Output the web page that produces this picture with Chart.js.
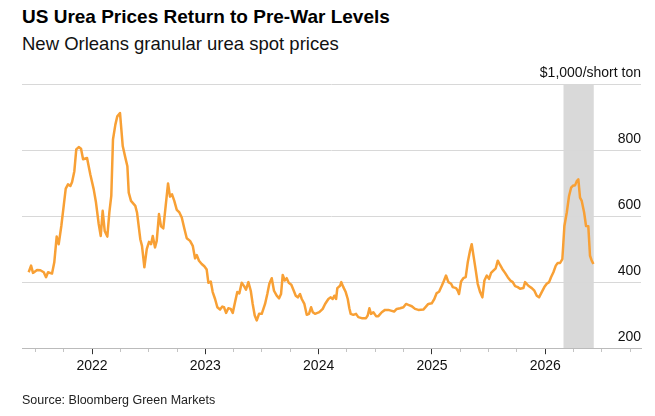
<!DOCTYPE html>
<html>
<head>
<meta charset="utf-8">
<script src="https://cdn.jsdelivr.net/npm/chart.js@4.4.0/dist/chart.umd.min.js"></script>
<style>
  html, body { margin: 0; padding: 0; background: #fff; }
  body { width: 655px; height: 416px; position: relative; overflow: hidden; font-family: "Liberation Sans", Arial, sans-serif; }
  #title { position: absolute; left: 22px; top: 6px; font-size: 19px; font-weight: bold; color: #000; }
  #subtitle { position: absolute; left: 22px; top: 33px; font-size: 18.5px; color: #111; }
  #source { position: absolute; left: 22px; top: 393px; font-size: 12.5px; color: #222; }
  #chart { position: absolute; left: 0; top: 0; }
</style>
</head>
<body>
<div id="title">US Urea Prices Return to Pre-War Levels</div>
<div id="subtitle">New Orleans granular urea spot prices</div>
<canvas id="chart" width="655" height="416"></canvas>
<div id="source">Source: Bloomberg Green Markets</div>
<script>
// weekly-ish spot price samples, dates as decimal years
const dates = [
  2021.441, 2021.462, 2021.479, 2021.515, 2021.544, 2021.574, 2021.594, 2021.612, 2021.647, 2021.667,
  2021.688, 2021.706, 2021.729, 2021.750, 2021.768, 2021.788, 2021.809, 2021.824, 2021.844, 2021.861,
  2021.883, 2021.903, 2021.921, 2021.956, 2021.985, 2022.015, 2022.035, 2022.059, 2022.077, 2022.094,
  2022.112, 2022.135, 2022.153, 2022.170, 2022.185, 2022.206, 2022.223, 2022.247, 2022.259, 2022.271,
  2022.294, 2022.312, 2022.324, 2022.344, 2022.382, 2022.397, 2022.426, 2022.441, 2022.462, 2022.483,
  2022.503, 2022.521, 2022.536, 2022.556, 2022.571, 2022.591, 2022.609, 2022.629, 2022.650, 2022.671,
  2022.688, 2022.706, 2022.726, 2022.748, 2022.771, 2022.792, 2022.812, 2022.836, 2022.865, 2022.889,
  2022.909, 2022.924, 2022.944, 2022.968, 2022.991, 2023.012, 2023.027, 2023.048, 2023.065, 2023.086,
  2023.106, 2023.130, 2023.150, 2023.165, 2023.183, 2023.203, 2023.224, 2023.242, 2023.262, 2023.282,
  2023.300, 2023.321, 2023.342, 2023.359, 2023.380, 2023.401, 2023.418, 2023.436, 2023.454, 2023.474,
  2023.498, 2023.527, 2023.547, 2023.565, 2023.586, 2023.606, 2023.630, 2023.651, 2023.668, 2023.683,
  2023.701, 2023.718, 2023.736, 2023.759, 2023.777, 2023.798, 2023.816, 2023.836, 2023.851, 2023.874,
  2023.895, 2023.915, 2023.933, 2023.948, 2023.968, 2024.006, 2024.036, 2024.057, 2024.086, 2024.107,
  2024.124, 2024.139, 2024.154, 2024.165, 2024.189, 2024.200, 2024.218, 2024.239, 2024.257, 2024.271,
  2024.283, 2024.306, 2024.330, 2024.350, 2024.380, 2024.418, 2024.433, 2024.448, 2024.462, 2024.483,
  2024.507, 2024.527, 2024.557, 2024.586, 2024.615, 2024.645, 2024.666, 2024.689, 2024.719, 2024.748,
  2024.771, 2024.792, 2024.822, 2024.851, 2024.880, 2024.924, 2024.945, 2024.968, 2024.998, 2025.021,
  2025.042, 2025.063, 2025.087, 2025.107, 2025.124, 2025.145, 2025.169, 2025.184, 2025.213, 2025.228,
  2025.239, 2025.257, 2025.277, 2025.298, 2025.316, 2025.336, 2025.351, 2025.369, 2025.387, 2025.404,
  2025.425, 2025.445, 2025.463, 2025.484, 2025.504, 2025.522, 2025.542, 2025.563, 2025.581, 2025.601,
  2025.621, 2025.645, 2025.669, 2025.692, 2025.713, 2025.734, 2025.757, 2025.778, 2025.807, 2025.822,
  2025.851, 2025.881, 2025.904, 2025.925, 2025.945, 2025.969, 2025.992, 2026.013, 2026.034, 2026.051,
  2026.072, 2026.093, 2026.110, 2026.131, 2026.151, 2026.169, 2026.190, 2026.210, 2026.228, 2026.248,
  2026.263, 2026.278, 2026.292, 2026.307, 2026.322, 2026.343, 2026.360, 2026.380, 2026.395, 2026.410, 2026.425
];

// $/short ton
const prices = [
  430, 450, 428, 437, 436, 430, 415, 430, 426, 460,
  538, 515, 570, 631, 683, 696, 691, 703, 736, 802,
  809, 804, 772, 776, 726, 681, 641, 576, 540, 616,
  555, 538, 611, 661, 832, 877, 902, 912, 862, 812,
  777, 751, 671, 646, 631, 611, 530, 510, 445, 500,
  522, 515, 540, 505, 525, 606, 569, 563, 631, 699,
  659, 666, 646, 619, 611, 596, 566, 533, 525, 510,
  472, 482, 465, 455, 448, 438, 398, 402, 370, 349,
  324, 317, 326, 324, 307, 321, 319, 307, 339, 370,
  366, 398, 388, 377, 400, 374, 334, 299, 284, 304,
  304, 334, 364, 395, 412, 374, 359, 351, 364, 422,
  405, 412, 398, 392, 377, 359, 354, 364, 349, 334,
  301, 304, 324, 309, 304, 309, 319, 334, 349, 354,
  349, 359, 349, 382, 389, 400, 385, 370, 349, 321,
  304, 301, 304, 294, 291, 291, 299, 321, 304, 309,
  297, 297, 309, 316, 316, 313, 311, 319, 321, 324,
  334, 331, 327, 319, 316, 317, 325, 334, 336, 349,
  367, 371, 389, 405, 420, 400, 395, 385, 382, 374,
  364, 402, 412, 415, 460, 495, 515, 475, 435, 395,
  370, 354, 405, 420, 410, 428, 435, 442, 465, 452,
  440, 428, 415, 405, 400, 388, 385, 380, 382, 400,
  389, 382, 374, 359, 354, 370, 385, 395, 400, 415,
  430, 450, 458, 458, 470, 570, 611, 661, 686, 693,
  693, 706, 711, 656, 646, 611, 570, 569, 480, 465, 455
];

const yearLabels = [2022, 2023, 2024, 2025, 2026];
const yTicks = [200, 400, 600, 800, 1000];
const shadedRange = [2026.161, 2026.428]; // war period

const xMin = 2021.382;
const xMax = 2026.845;

// quarter tick positions between the axis ends
const quarterTicks = [];
for (let q = Math.ceil(xMin * 4); q <= Math.floor(xMax * 4); q++) {
  quarterTicks.push(q / 4);
}

const points = dates.map((d, i) => ({ x: d, y: prices[i] }));

const bandPlugin = {
  id: 'shadedBand',
  beforeDraw(chart) {
    const { ctx, chartArea, scales } = chart;
    const x0 = scales.x.getPixelForValue(shadedRange[0]);
    const x1 = scales.x.getPixelForValue(shadedRange[1]);
    ctx.save();
    ctx.fillStyle = '#d9d9d9';
    ctx.fillRect(x0, chartArea.top, x1 - x0, chartArea.bottom - chartArea.top);
    ctx.restore();
  }
};

Chart.defaults.font.family = '"Liberation Sans", Arial, sans-serif';
Chart.defaults.color = '#111';

const isYear = (v) => yearLabels.includes(v);

new Chart(document.getElementById('chart').getContext('2d'), {
  type: 'line',
  data: {
    datasets: [{
      label: 'Urea spot price',
      data: points,
      borderColor: '#f8a035',
      borderWidth: 2.5,
      pointRadius: 0,
      tension: 0,
      borderJoinStyle: 'round'
    }]
  },
  options: {
    responsive: false,
    animation: false,
    layout: { padding: { left: 22, right: 14, top: 84, bottom: 37 } },
    plugins: {
      legend: { display: false },
      tooltip: { enabled: false }
    },
    scales: {
      x: {
        type: 'linear',
        min: xMin,
        max: xMax,
        afterBuildTicks: (scale) => {
          scale.ticks = quarterTicks.map(v => ({ value: v }));
        },
        grid: {
          drawOnChartArea: false,
          drawTicks: true,
          tickLength: 6,
          tickColor: (ctx) => isYear(ctx.tick.value) ? '#333' : '#c4c4c4',
          tickBorderDash: (ctx) => isYear(ctx.tick.value) ? [] : [3, 20]
        },
        border: { display: true, color: '#bbbbbb', width: 1 },
        ticks: {
          autoSkip: false,
          maxRotation: 0,
          padding: 4,
          font: { size: 14 },
          callback: (v) => isYear(v) ? String(v) : ''
        }
      },
      y: {
        position: 'right',
        min: 200,
        max: 1000,
        afterBuildTicks: (scale) => {
          scale.ticks = yTicks.map(v => ({ value: v }));
        },
        grid: {
          drawTicks: false,
          color: (ctx) => ctx.tick.value === 200 ? 'rgba(0,0,0,0)' : '#d8d8d8',
          lineWidth: 1
        },
        border: { display: false },
        ticks: {
          mirror: true,
          padding: 0,
          labelOffset: -11,
          font: { size: 14 },
          callback: (v) => v === 1000 ? '$1,000/short ton' : String(v)
        }
      }
    }
  },
  plugins: [bandPlugin]
});
</script>
</body>
</html>
